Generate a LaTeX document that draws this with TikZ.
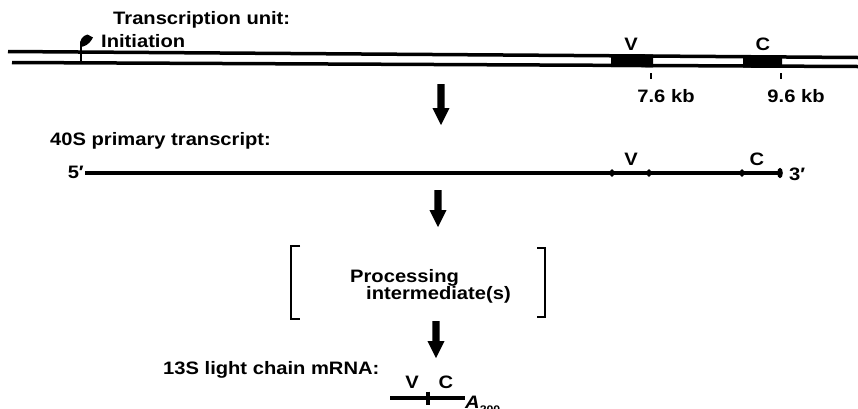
\documentclass[tikz,border=0pt]{standalone}
\usepackage{fontspec}
\setmainfont{Liberation Sans}
\newcommand{\sx}[1]{\scalebox{1.12}[1]{#1}}
\begin{document}
\begin{tikzpicture}[x=1pt,y=-1pt,
  lbl/.style={inner sep=0pt, font=\fontsize{18}{20}\selectfont\bfseries},
  strand/.style={line width=3.5pt},
  tickmark/.style={line width=2.2pt},
  brk/.style={line width=2.6pt, line cap=butt, line join=miter}]
\newcommand{\blkarrow}[3]{%
  \fill (#1-3.6,#2) -- (#1+3.6,#2) -- (#1+3.6,#3-17) -- (#1+8.6,#3-17) -- (#1,#3)
        -- (#1-8.6,#3-17) -- (#1-3.6,#3-17) -- cycle;}
\useasboundingbox (0,0) rectangle (858,408);
% --- transcription unit (double-stranded DNA)
\draw[strand] (8,51.5) -- (858,57.5);
\draw[strand] (12,62.5) -- (858,66.5);
\fill (611,54.1) -- (653,54.3) -- (653,67.3) -- (611,67.1) -- cycle;
\fill (743,55.0) -- (782,55.3) -- (782,67.9) -- (743,67.7) -- cycle;
\draw[tickmark] (651,73) -- (651,79);
\draw[tickmark] (781,73) -- (781,79);
% initiation flag
\draw[line width=2.6pt] (81,44) -- (81,62);
\fill (80,46.5) .. controls (79,40) and (83,35.5) .. (87.5,34.5) -- (93,37.5)
      .. controls (91,41) and (88.5,45) .. (83,46.5) -- cycle;
\node[lbl, anchor=base west] (tu) at (113,24.5) {\sx{Transcription unit:}};
\node[lbl, anchor=base west] (init) at (101,47) {\sx{Initiation}};
\node[lbl, anchor=base] (v1) at (631,50) {\sx{V}};
\node[lbl, anchor=base] (c1) at (763,50) {\sx{C}};
\node[lbl, anchor=base] (kb1) at (666,102) {\sx{7.6 kb}};
\node[lbl, anchor=base] (kb2) at (796,102) {\sx{9.6 kb}};
% arrow 1
\blkarrow{441}{84}{125}
% --- 40S primary transcript
\node[lbl, anchor=base west] (pt) at (50,145) {\sx{40S primary transcript:}};
\node[lbl, anchor=base east] (five) at (84,178) {\sx{5′}};
\draw[strand] (85,173) -- (780,173);
\fill (612,173) ellipse (2.2pt and 3.8pt);
\fill (649,173) ellipse (2.2pt and 3.8pt);
\fill (742,173) ellipse (2.2pt and 3.8pt);
\fill (780,173) ellipse (2.8pt and 5.2pt);
\node[lbl, anchor=base] (v2) at (631,165) {\sx{V}};
\node[lbl, anchor=base] (c2) at (757,165) {\sx{C}};
\node[lbl, anchor=base west] (three) at (789,180) {\sx{3′}};
% arrow 2
\blkarrow{438}{190}{227}
% --- processing intermediates
\draw[brk] (300,246) -- (291,246) -- (291,319) -- (300,319);
\draw[brk] (537,248) -- (545,248) -- (545,317) -- (537,317);
\node[lbl, anchor=base west] (proc) at (350,282) {\sx{Processing}};
\node[lbl, anchor=base west] (inter) at (366,299) {\sx{intermediate(s)}};
% arrow 3
\blkarrow{436}{321}{358}
% --- 13S mRNA
\node[lbl, anchor=base west] (m13) at (163,374) {\sx{13S light chain mRNA:}};
\draw[strand] (390,398) -- (465,398);
\draw[line width=3.2pt] (428,391.5) -- (428,405);
\node[lbl, anchor=base] (v3) at (412,388) {\sx{V}};
\node[lbl, anchor=base] (c3) at (446,388) {\sx{C}};
\node[lbl, anchor=base west] (poly) at (465,408) {\sx{\itshape A\raisebox{-5pt}{\upshape\fontsize{11}{12}\selectfont 200}}};
\end{tikzpicture}
\end{document}
